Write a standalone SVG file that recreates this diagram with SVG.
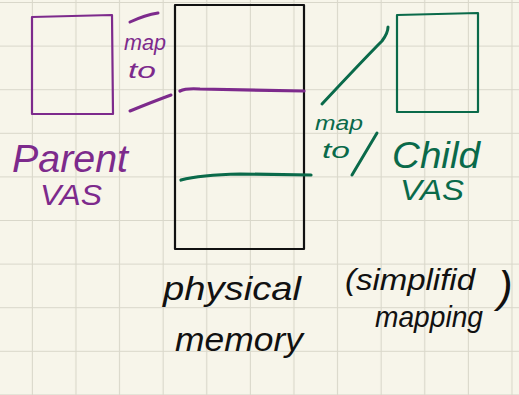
<svg xmlns="http://www.w3.org/2000/svg" width="519" height="395" viewBox="0 0 519 395">
  <defs>
    <pattern id="grid" x="-10.7" y="-40.6" width="43.6" height="43.6" patternUnits="userSpaceOnUse">
      <path d="M43.6 0V43.6M0 43.6H43.6" fill="none" stroke="#d9d7ca" stroke-width="2.2"/>
    </pattern>
  </defs>
  <style>
    .ink { fill: none; stroke-linecap: round; stroke-linejoin: round; }
    .purple { stroke: #7d2a8c; }
    .green { stroke: #0a6a4a; }
    .black { stroke: #111111; }
    .hand { font-family: "Liberation Sans", "DejaVu Sans", sans-serif; font-style: italic; }
    .tp { fill: #7d2a8c; }
    .tg { fill: #0a6a4a; }
    .tb { fill: #111111; }
  </style>

  <rect width="519" height="395" fill="#f7f5ea"/>
  <rect width="519" height="395" fill="url(#grid)"/>

  <!-- parent virtual address space -->
  <g id="parent-vas">
    <path class="ink purple" stroke-width="2.2" d="M32 17L112 15L113 114L32 114Z"/>
    <text class="hand tp" x="12" y="172" font-size="38" textLength="116" lengthAdjust="spacingAndGlyphs">Parent</text>
    <text class="hand tp" x="40" y="205" font-size="30" textLength="62" lengthAdjust="spacingAndGlyphs">VAS</text>
  </g>

  <!-- physical memory -->
  <g id="physical-memory">
    <path class="ink black" stroke-width="2.2" d="M175 5H304V249H175Z"/>
    <text class="hand tb" x="163" y="300" font-size="34" textLength="138" lengthAdjust="spacingAndGlyphs">physical</text>
    <text class="hand tb" x="175" y="351" font-size="34" textLength="128" lengthAdjust="spacingAndGlyphs">memory</text>
  </g>

  <!-- child virtual address space -->
  <g id="child-vas">
    <path class="ink green" stroke-width="2.2" d="M397 15L478 13L478 112L397 112Z"/>
    <text class="hand tg" x="392" y="168" font-size="36" textLength="88" lengthAdjust="spacingAndGlyphs">Child</text>
    <text class="hand tg" x="400" y="200" font-size="30" textLength="64" lengthAdjust="spacingAndGlyphs">VAS</text>
  </g>

  <!-- note -->
  <g id="note">
    <text class="hand tb" x="345" y="290" font-size="30" textLength="130" lengthAdjust="spacingAndGlyphs">(simplifid</text>
    <text class="hand tb" x="498" y="302" font-size="44">)</text>
    <text class="hand tb" x="375" y="327" font-size="30" textLength="108" lengthAdjust="spacingAndGlyphs">mapping</text>
  </g>

  <!-- mappings into physical memory -->
  <g id="connectors">
    <path class="ink purple" stroke-width="3" d="M130 22Q145 15 158 13"/>
    <path class="ink purple" stroke-width="3" d="M130 111Q152 102 171 95"/>
    <path class="ink purple" stroke-width="3.2" d="M180 91Q186 88 200 89L304 91"/>
    <text class="hand tp" x="124" y="50" font-size="22" textLength="42" lengthAdjust="spacingAndGlyphs">map</text>
    <text class="hand tp" x="128" y="78" font-size="22" textLength="28" lengthAdjust="spacingAndGlyphs">to</text>

    <path class="ink green" stroke-width="3.2" d="M181 180Q200 175 240 174L311 175"/>
    <path class="ink green" stroke-width="3" d="M322 104Q365 58 382 41Q388 33 388 27"/>
    <path class="ink green" stroke-width="3" d="M352 175L377 133"/>
    <text class="hand tg" x="315" y="130" font-size="20" textLength="48" lengthAdjust="spacingAndGlyphs">map</text>
    <text class="hand tg" x="322" y="158" font-size="22" textLength="28" lengthAdjust="spacingAndGlyphs">to</text>
  </g>
</svg>
